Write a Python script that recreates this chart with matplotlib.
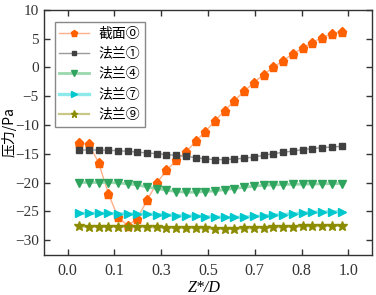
import matplotlib
matplotlib.use("Agg")
import matplotlib.pyplot as plt
from matplotlib.ticker import FixedLocator

x = [0.041, 0.076, 0.110, 0.145, 0.179, 0.214, 0.248, 0.283, 0.318, 0.352,
     0.387, 0.421, 0.456, 0.490, 0.525, 0.560, 0.594, 0.629, 0.664, 0.698,
     0.733, 0.768, 0.802, 0.837, 0.871, 0.906, 0.941, 0.976]

s0 = [-13.2, -13.4, -16.55, -21.95, -26.0, -27.48, -26.25, -23.08, -20.05, -17.88,
      -16.18, -14.7, -12.88, -11.15, -9.3, -7.5, -5.8, -4.15, -2.65, -1.25,
      0.0, 1.15, 2.3, 3.35, 4.3, 5.15, 5.85, 6.2]
s1 = [-14.36, -14.36, -14.36, -14.42, -14.47, -14.59, -14.71, -14.88, -14.99, -15.16,
      -15.28, -15.45, -15.68, -15.9, -16.03, -16.03, -15.92, -15.8, -15.57, -15.28,
      -14.99, -14.76, -14.54, -14.3, -14.12, -13.95, -13.84, -13.72]
s4 = [-20.0, -20.0, -20.0, -20.0, -20.08, -20.25, -20.42, -20.77, -21.05, -21.34,
      -21.57, -21.69, -21.69, -21.57, -21.46, -21.23, -21.05, -20.82, -20.65, -20.48,
      -20.42, -20.36, -20.3, -20.3, -20.25, -20.25, -20.18, -20.18]
s7 = [-25.38, -25.38, -25.38, -25.38, -25.44, -25.44, -25.5, -25.5, -25.56, -25.62,
      -25.73, -25.79, -25.84, -25.93, -26.01, -26.07, -26.07, -26.01, -25.9, -25.79,
      -25.67, -25.56, -25.44, -25.32, -25.2, -25.15, -25.1, -25.1]
s9 = [-27.63, -27.69, -27.69, -27.69, -27.69, -27.69, -27.75, -27.75, -27.81, -27.86,
      -27.86, -27.92, -27.92, -27.98, -28.04, -28.04, -28.04, -27.98, -27.92, -27.86,
      -27.81, -27.75, -27.69, -27.63, -27.58, -27.58, -27.52, -27.52]

labels = ["截面⓪", "法兰①", "法兰④", "法兰⑦", "法兰⑨"]
xticks = [0.0, 0.1667, 0.3333, 0.5, 0.6667, 0.8333, 1.0]
xticklabels = ["0.0", "0.1", "0.3", "0.5", "0.7", "0.8", "1.0"]
yticks = [10, 5, 0, -5, -10, -15, -20, -25, -30]

cjk = ["Noto Sans CJK SC", "DejaVu Sans"]
serif = ["Liberation Serif", "DejaVu Serif"]

fig = plt.figure(figsize=(3.76, 2.95), dpi=100)
ax = fig.add_axes([44.3 / 376, 1 - 254.5 / 295, (371.7 - 44.3) / 376, (254.5 - 9.7) / 295])

styles = [
    dict(marker="p", color="#FFB08A", mfc="#FF6000", mec="#FF6000", ms=6.5, lw=1.0),
    dict(marker="s", color="#9A9A9A", mfc="#404040", mec="#404040", ms=4.8, lw=1.0),
    dict(marker="v", color="#9AD8AE", mfc="#2FA45E", mec="#2FA45E", ms=6.0, lw=2.0),
    dict(marker=">", color="#8EEAEA", mfc="#00C8CC", mec="#00C8CC", ms=6.0, lw=2.4),
    dict(marker="*", color="#C8C888", mfc="#8C8C00", mec="#8C8C00", ms=7.0, lw=1.6),
]
series = [s0, s1, s4, s7, s9]
handles = []
for ys, lab, st in zip(series, labels, styles):
    h, = ax.plot(x, ys, label=lab, **st)
    handles.append(h)

ax.set_xlim(-0.0834, 1.0834)
ax.set_ylim(-32.5, 10)
ax.xaxis.set_major_locator(FixedLocator(xticks))
ax.set_xticklabels(xticklabels)
ax.set_yticks(yticks)
ax.set_yticklabels([str(v).replace("-", "\u2212") for v in yticks])
for lab in ax.get_xticklabels():
    lab.set_fontfamily(serif)
    lab.set_fontsize(11.5)
    lab.set_color("#222222")
for lab in ax.get_yticklabels():
    lab.set_fontfamily(serif)
    lab.set_fontsize(11)
    lab.set_color("#222222")
ax.tick_params(direction="in", length=4, width=1, top=True, right=True,
               colors="#333333", pad=4)
ax.tick_params(axis="x", pad=6)
for sp in ax.spines.values():
    sp.set_color("#333333")
    sp.set_linewidth(1.0)

ax.set_xlabel("Z*/D", fontfamily=serif, fontstyle="italic", fontsize=11.5)
ax.xaxis.set_label_coords(0.49, (254.5 - 279.5) / 244.8)
ax.set_ylabel("压力/Pa", fontfamily=cjk, fontsize=10)
ax.yaxis.set_label_coords((16.5 - 44.3) / 327.4, (254.5 - 132) / 244.8)

leg = ax.legend(handles=handles, loc="upper left",
                bbox_to_anchor=((54.5 - 44.3) / 327.4, (254.5 - 22) / 244.8),
                borderaxespad=0, prop={"family": cjk, "size": 10},
                handlelength=2.15, handletextpad=0.65, labelspacing=0.45,
                borderpad=0.35, markerscale=0.75,
                fancybox=False, framealpha=1, edgecolor="#888888")
leg.get_frame().set_linewidth(1.0)

fig.savefig("out.png", dpi=100)
